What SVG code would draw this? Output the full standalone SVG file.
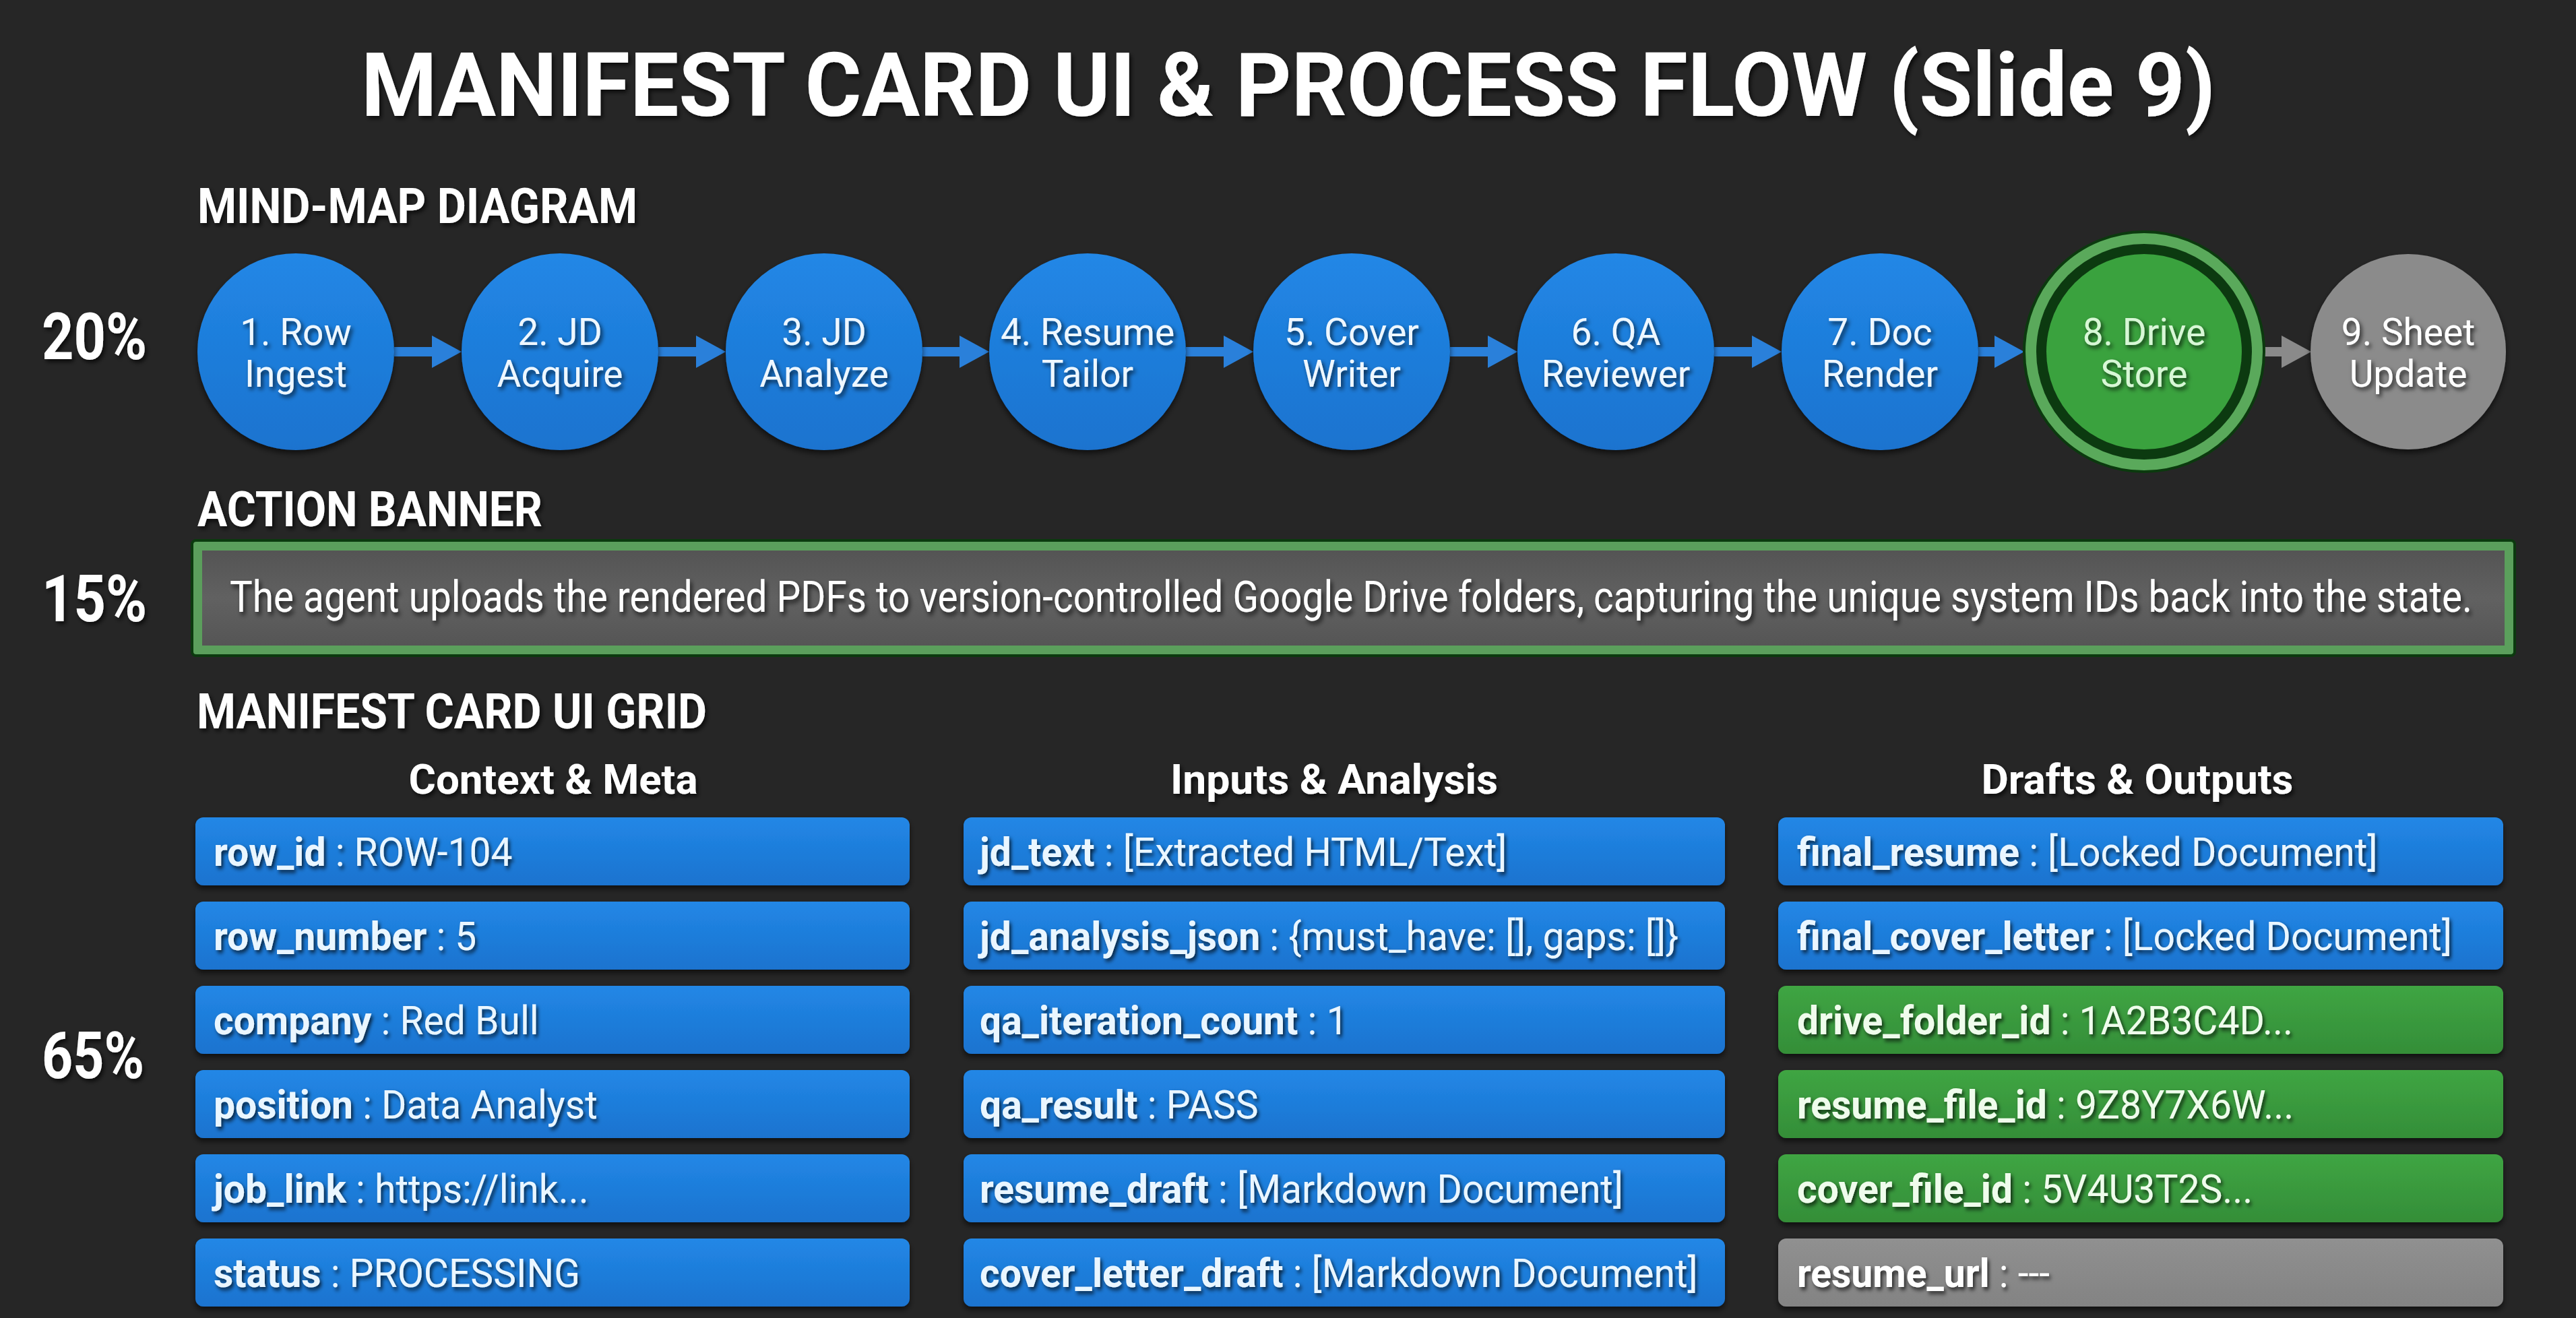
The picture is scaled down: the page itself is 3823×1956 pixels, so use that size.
<svg xmlns="http://www.w3.org/2000/svg" width="3823" height="1956" viewBox="0 0 3823 1956">
<defs>
<style>
.t{font-family:Roboto,"Liberation Sans",sans-serif;fill:#ffffff}
.b{font-weight:700}
.sec{font-size:72px;font-weight:700}
.pct{font-size:96px;font-weight:700}
.cl{font-size:55px;text-anchor:middle;fill:#eef7ff}
.hdr{font-size:62px;font-weight:700;text-anchor:middle}
.row{font-size:60px;fill:#eaf6ff}
.rowg{font-size:60px;fill:#effcec}
.k{font-weight:700}
.blue{fill:url(#gBlue)}
.green{fill:url(#gGreen)}
.gray{fill:url(#gGray)}
.conn{stroke-width:14;fill:none}
</style>
<linearGradient id="gBlue" x1="0" y1="0" x2="0" y2="1"><stop offset="0" stop-color="#2287e6"/><stop offset="1" stop-color="#1a73cf"/></linearGradient>
<linearGradient id="gGreen" x1="0" y1="0" x2="0" y2="1"><stop offset="0" stop-color="#3fa543"/><stop offset="1" stop-color="#348e38"/></linearGradient>
<linearGradient id="gGray" x1="0" y1="0" x2="0" y2="1"><stop offset="0" stop-color="#909090"/><stop offset="1" stop-color="#838383"/></linearGradient>
<linearGradient id="gBanner" x1="0" y1="0" x2="0" y2="1"><stop offset="0" stop-color="#545454"/><stop offset="0.5" stop-color="#616161"/><stop offset="1" stop-color="#555555"/></linearGradient>
<filter id="ts" x="-10%" y="-40%" width="120%" height="180%"><feDropShadow dx="3" dy="4" stdDeviation="3" flood-color="#000" flood-opacity="0.7"/></filter>
<filter id="bs" x="-5%" y="-20%" width="110%" height="150%"><feDropShadow dx="0" dy="5" stdDeviation="4" flood-color="#000" flood-opacity="0.6"/></filter>
<marker id="ahB" markerUnits="userSpaceOnUse" markerWidth="44" markerHeight="48" refX="14" refY="24" orient="auto"><path d="M0,0 L44,24 L0,48 z" fill="#2a80da"/></marker>
<marker id="ahG" markerUnits="userSpaceOnUse" markerWidth="44" markerHeight="48" refX="14" refY="24" orient="auto"><path d="M0,0 L44,24 L0,48 z" fill="#8a8a8a"/></marker>
</defs>
<rect width="3823" height="1956" fill="#262626"/>

<g id="labels" class="t">
<text x="1912" y="172" class="b" font-size="132" text-anchor="middle" textLength="2752" lengthAdjust="spacingAndGlyphs" filter="url(#ts)">MANIFEST CARD UI &amp; PROCESS FLOW (Slide 9)</text>
<text x="293" y="331" class="sec" textLength="653" lengthAdjust="spacingAndGlyphs" filter="url(#ts)">MIND-MAP DIAGRAM</text>
<text x="293" y="781" class="sec" textLength="512" lengthAdjust="spacingAndGlyphs" filter="url(#ts)">ACTION BANNER</text>
<text x="292" y="1081" class="sec" textLength="757" lengthAdjust="spacingAndGlyphs" filter="url(#ts)">MANIFEST CARD UI GRID</text>
<text x="62" y="533" class="pct" textLength="156" lengthAdjust="spacingAndGlyphs" filter="url(#ts)">20%</text>
<text x="62" y="922" class="pct" textLength="156" lengthAdjust="spacingAndGlyphs" filter="url(#ts)">15%</text>
<text x="62" y="1600" class="pct" textLength="152" lengthAdjust="spacingAndGlyphs" filter="url(#ts)">65%</text>
<text x="821" y="1178" class="hdr" textLength="429" lengthAdjust="spacingAndGlyphs" filter="url(#ts)">Context &amp; Meta</text>
<text x="1980" y="1178" class="hdr" textLength="486" lengthAdjust="spacingAndGlyphs" filter="url(#ts)">Inputs &amp; Analysis</text>
<text x="3172" y="1178" class="hdr" textLength="463" lengthAdjust="spacingAndGlyphs" filter="url(#ts)">Drafts &amp; Outputs</text>
</g>

<g id="connectors">
<line class="conn" stroke="#2a80da" x1="585" y1="522" x2="655" y2="522" marker-end="url(#ahB)"/>
<line class="conn" stroke="#2a80da" x1="977" y1="522" x2="1047" y2="522" marker-end="url(#ahB)"/>
<line class="conn" stroke="#2a80da" x1="1369" y1="522" x2="1438" y2="522" marker-end="url(#ahB)"/>
<line class="conn" stroke="#2a80da" x1="1760" y1="522" x2="1830" y2="522" marker-end="url(#ahB)"/>
<line class="conn" stroke="#2a80da" x1="2152" y1="522" x2="2222" y2="522" marker-end="url(#ahB)"/>
<line class="conn" stroke="#2a80da" x1="2544" y1="522" x2="2614" y2="522" marker-end="url(#ahB)"/>
<line class="conn" stroke="#2a80da" x1="2936" y1="522" x2="2974" y2="522" marker-end="url(#ahB)"/>
<line class="conn" stroke="#8a8a8a" x1="3360" y1="522" x2="3400" y2="522" marker-end="url(#ahG)"/>
</g>

<g id="node1"><circle cx="439" cy="522" r="146" class="blue" filter="url(#bs)"/><text class="t cl" filter="url(#ts)"><tspan x="439" y="512">1. Row</tspan><tspan x="439" y="574">Ingest</tspan></text></g>
<g id="node2"><circle cx="831" cy="522" r="146" class="blue" filter="url(#bs)"/><text class="t cl" filter="url(#ts)"><tspan x="831" y="512">2. JD</tspan><tspan x="831" y="574">Acquire</tspan></text></g>
<g id="node3"><circle cx="1223" cy="522" r="146" class="blue" filter="url(#bs)"/><text class="t cl" filter="url(#ts)"><tspan x="1223" y="512">3. JD</tspan><tspan x="1223" y="574">Analyze</tspan></text></g>
<g id="node4"><circle cx="1614" cy="522" r="146" class="blue" filter="url(#bs)"/><text class="t cl" filter="url(#ts)"><tspan x="1614" y="512">4. Resume</tspan><tspan x="1614" y="574">Tailor</tspan></text></g>
<g id="node5"><circle cx="2006" cy="522" r="146" class="blue" filter="url(#bs)"/><text class="t cl" filter="url(#ts)"><tspan x="2006" y="512">5. Cover</tspan><tspan x="2006" y="574">Writer</tspan></text></g>
<g id="node6"><circle cx="2398" cy="522" r="146" class="blue" filter="url(#bs)"/><text class="t cl" filter="url(#ts)"><tspan x="2398" y="512">6. QA</tspan><tspan x="2398" y="574">Reviewer</tspan></text></g>
<g id="node7"><circle cx="2790" cy="522" r="146" class="blue" filter="url(#bs)"/><text class="t cl" filter="url(#ts)"><tspan x="2790" y="512">7. Doc</tspan><tspan x="2790" y="574">Render</tspan></text></g>
<g id="node8"><circle cx="3182" cy="522" r="178" fill="#5aa95b" stroke="#0b3a0e" stroke-width="4"/><circle cx="3182" cy="522" r="160" fill="#0c3a10"/><circle cx="3182" cy="522" r="145" fill="#3aa23e"/><text class="t cl" style="fill:#d8f7d6" filter="url(#ts)"><tspan x="3182" y="512">8. Drive</tspan><tspan x="3182" y="574">Store</tspan></text></g>
<g id="node9"><circle cx="3574" cy="522" r="145" fill="#8b8b8b" filter="url(#bs)"/><text class="t cl" style="fill:#ffffff" filter="url(#ts)"><tspan x="3574" y="512">9. Sheet</tspan><tspan x="3574" y="574">Update</tspan></text></g>

<g id="banner">
<rect x="285" y="802" width="3447" height="171" rx="6" fill="#5b9f5c" stroke="#0b3a0e" stroke-width="4"/>
<rect x="300" y="817" width="3417" height="141" fill="url(#gBanner)"/>
<text x="341" y="908" class="t" font-size="56" fill="#f2f2f2" textLength="3328" lengthAdjust="spacingAndGlyphs" transform="matrix(1 0 0 1.17 0 -154.36)" filter="url(#ts)">The agent uploads the rendered PDFs to version-controlled Google Drive folders, capturing the unique system IDs back into the state.</text>
</g>

<g id="col1">
<g id="c1r1"><rect x="290" y="1213" width="1060" height="101" rx="12" class="blue" filter="url(#bs)"/><text x="317" y="1285" class="t row" transform="matrix(0.95 0 0 1 15.85 0)" filter="url(#ts)"><tspan class="k">row_id</tspan> : ROW-104</text></g>
<g id="c1r2"><rect x="290" y="1338" width="1060" height="101" rx="12" class="blue" filter="url(#bs)"/><text x="317" y="1410" class="t row" transform="matrix(0.95 0 0 1 15.85 0)" filter="url(#ts)"><tspan class="k">row_number</tspan> : 5</text></g>
<g id="c1r3"><rect x="290" y="1463" width="1060" height="101" rx="12" class="blue" filter="url(#bs)"/><text x="317" y="1535" class="t row" transform="matrix(0.95 0 0 1 15.85 0)" filter="url(#ts)"><tspan class="k">company</tspan> : Red Bull</text></g>
<g id="c1r4"><rect x="290" y="1588" width="1060" height="101" rx="12" class="blue" filter="url(#bs)"/><text x="317" y="1660" class="t row" transform="matrix(0.95 0 0 1 15.85 0)" filter="url(#ts)"><tspan class="k">position</tspan> : Data Analyst</text></g>
<g id="c1r5"><rect x="290" y="1713" width="1060" height="101" rx="12" class="blue" filter="url(#bs)"/><text x="317" y="1785" class="t row" transform="matrix(0.95 0 0 1 15.85 0)" filter="url(#ts)"><tspan class="k">job_link</tspan> : https://link...</text></g>
<g id="c1r6"><rect x="290" y="1838" width="1060" height="101" rx="12" class="blue" filter="url(#bs)"/><text x="317" y="1910" class="t row" transform="matrix(0.95 0 0 1 15.85 0)" filter="url(#ts)"><tspan class="k">status</tspan> : PROCESSING</text></g>
</g>

<g id="col2">
<g id="c2r1"><rect x="1430" y="1213" width="1130" height="101" rx="12" class="blue" filter="url(#bs)"/><text x="1454" y="1285" class="t row" transform="matrix(0.95 0 0 1 72.7 0)" filter="url(#ts)"><tspan class="k">jd_text</tspan> : [Extracted HTML/Text]</text></g>
<g id="c2r2"><rect x="1430" y="1338" width="1130" height="101" rx="12" class="blue" filter="url(#bs)"/><text x="1454" y="1410" class="t row" transform="matrix(0.95 0 0 1 72.7 0)" filter="url(#ts)"><tspan class="k">jd_analysis_json</tspan> : {must_have: [], gaps: []}</text></g>
<g id="c2r3"><rect x="1430" y="1463" width="1130" height="101" rx="12" class="blue" filter="url(#bs)"/><text x="1454" y="1535" class="t row" transform="matrix(0.95 0 0 1 72.7 0)" filter="url(#ts)"><tspan class="k">qa_iteration_count</tspan> : 1</text></g>
<g id="c2r4"><rect x="1430" y="1588" width="1130" height="101" rx="12" class="blue" filter="url(#bs)"/><text x="1454" y="1660" class="t row" transform="matrix(0.95 0 0 1 72.7 0)" filter="url(#ts)"><tspan class="k">qa_result</tspan> : PASS</text></g>
<g id="c2r5"><rect x="1430" y="1713" width="1130" height="101" rx="12" class="blue" filter="url(#bs)"/><text x="1454" y="1785" class="t row" transform="matrix(0.95 0 0 1 72.7 0)" filter="url(#ts)"><tspan class="k">resume_draft</tspan> : [Markdown Document]</text></g>
<g id="c2r6"><rect x="1430" y="1838" width="1130" height="101" rx="12" class="blue" filter="url(#bs)"/><text x="1454" y="1910" class="t row" transform="matrix(0.95 0 0 1 72.7 0)" filter="url(#ts)"><tspan class="k">cover_letter_draft</tspan> : [Markdown Document]</text></g>
</g>

<g id="col3">
<g id="c3r1"><rect x="2639" y="1213" width="1076" height="101" rx="12" class="blue" filter="url(#bs)"/><text x="2667" y="1285" class="t row" transform="matrix(0.95 0 0 1 133.35 0)" filter="url(#ts)"><tspan class="k">final_resume</tspan> : [Locked Document]</text></g>
<g id="c3r2"><rect x="2639" y="1338" width="1076" height="101" rx="12" class="blue" filter="url(#bs)"/><text x="2667" y="1410" class="t row" transform="matrix(0.95 0 0 1 133.35 0)" filter="url(#ts)"><tspan class="k">final_cover_letter</tspan> : [Locked Document]</text></g>
<g id="c3r3"><rect x="2639" y="1463" width="1076" height="101" rx="12" class="green" filter="url(#bs)"/><text x="2667" y="1535" class="t rowg" transform="matrix(0.95 0 0 1 133.35 0)" filter="url(#ts)"><tspan class="k">drive_folder_id</tspan> : 1A2B3C4D...</text></g>
<g id="c3r4"><rect x="2639" y="1588" width="1076" height="101" rx="12" class="green" filter="url(#bs)"/><text x="2667" y="1660" class="t rowg" transform="matrix(0.95 0 0 1 133.35 0)" filter="url(#ts)"><tspan class="k">resume_file_id</tspan> : 9Z8Y7X6W...</text></g>
<g id="c3r5"><rect x="2639" y="1713" width="1076" height="101" rx="12" class="green" filter="url(#bs)"/><text x="2667" y="1785" class="t rowg" transform="matrix(0.95 0 0 1 133.35 0)" filter="url(#ts)"><tspan class="k">cover_file_id</tspan> : 5V4U3T2S...</text></g>
<g id="c3r6"><rect x="2639" y="1838" width="1076" height="101" rx="12" class="gray" filter="url(#bs)"/><text x="2667" y="1910" class="t rowg" style="fill:#ffffff" transform="matrix(0.95 0 0 1 133.35 0)" filter="url(#ts)"><tspan class="k">resume_url</tspan> : ---</text></g>
</g>
</svg>
